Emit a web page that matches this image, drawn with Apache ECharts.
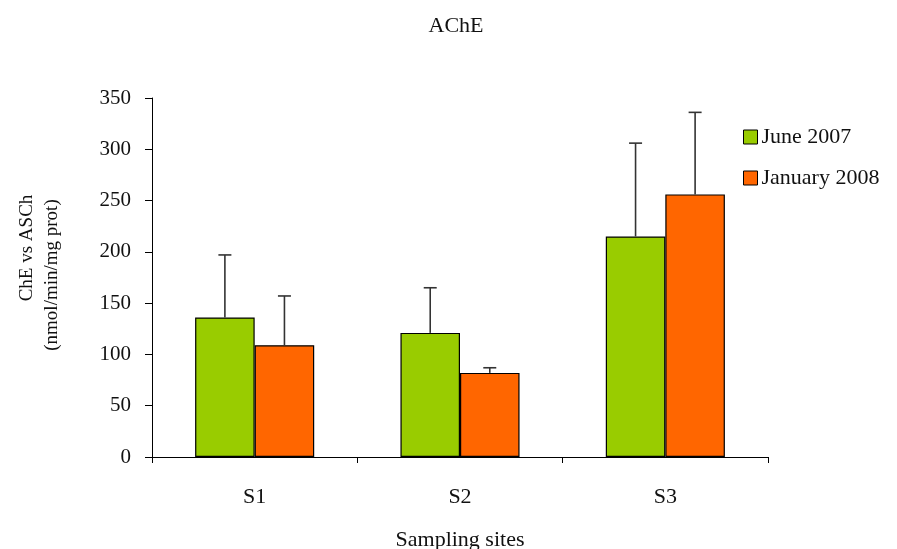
<!DOCTYPE html>
<html>
<head>
<meta charset="utf-8">
<script src="https://cdn.jsdelivr.net/npm/echarts@6/dist/echarts.min.js"></script>
<style>html,body{margin:0;padding:0;background:#fff}#c{width:897px;height:549px}</style>
</head>
<body>
<div id="c"></div>
<script>
var categories = ['S1', 'S2', 'S3'];
var june2007 = [136, 121, 215];
var june2007Err = [197, 165, 306];
var jan2008 = [109, 82, 256];
var jan2008Err = [157, 87, 336];
var yTicks = [0, 50, 100, 150, 200, 250, 300, 350];

var FONT = '"Liberation Serif", "DejaVu Serif", serif';
var GAP = 0.42;

function errSeries(vals, side) {
  var data = vals.map(function (v, i) { return [i, v]; });
  return {
    type: 'custom',
    silent: true,
    z: 5,
    data: data,
    renderItem: function (params, api) {
      var idx = api.value(0);
      var top = api.coord([idx, api.value(1)]);
      var cw = api.size([1, 0])[0];
      var bw = cw * (1 - GAP) / 2;
      var x = top[0] + side * bw / 2;
      var base = side < 0 ? june2007[idx] : jan2008[idx];
      var b = api.coord([idx, base]);
      return {
        type: 'group',
        children: [
          { type: 'line', shape: { x1: x, y1: b[1], x2: x, y2: top[1] }, style: { stroke: '#333', lineWidth: 1.6 } },
          { type: 'line', shape: { x1: x - 6.5, y1: top[1], x2: x + 6.5, y2: top[1] }, style: { stroke: '#333', lineWidth: 1.6 } }
        ]
      };
    }
  };
}

var chart = echarts.init(document.getElementById('c'));
chart.setOption({
  animation: false,
  backgroundColor: '#fff',
  title: {
    text: 'AChE', left: 451, top: 10, textAlign: 'center',
    textStyle: { fontFamily: FONT, fontSize: 22, fontWeight: 'normal', color: '#111' }
  },
  legend: {
    orient: 'vertical', left: 743, top: 126, itemGap: 19, padding: 0,
    itemWidth: 14, itemHeight: 14, icon: 'rect',
    data: ['June 2007', 'January 2008'],
    textStyle: { fontFamily: FONT, fontSize: 22, color: '#111', padding: [0, 0, 0, -1] },
    itemStyle: { borderColor: '#000', borderWidth: 1 }
  },
  grid: { left: 152, right: 129, top: 98, bottom: 92, containLabel: false, outerBoundsMode: 'none' },
  xAxis: {
    type: 'category', data: categories,
    name: 'Sampling sites', nameLocation: 'middle', nameGap: 72,
    nameTextStyle: { fontFamily: FONT, fontSize: 22, color: '#111' },
    axisLine: { lineStyle: { color: '#000', width: 1 } },
    axisTick: { show: true, length: 6, lineStyle: { color: '#000' } },
    axisLabel: { fontFamily: FONT, fontSize: 22, color: '#111', margin: 29 }
  },
  yAxis: {
    type: 'value', min: 0, max: 350, interval: 50,
    axisLine: { show: true, lineStyle: { color: '#000', width: 1 } },
    axisTick: { show: true, length: 7, lineStyle: { color: '#000' } },
    splitLine: { show: false },
    axisLabel: { fontFamily: FONT, fontSize: 21, color: '#111', margin: 21 }
  },
  graphic: [
    { type: 'text', x: 27, y: 248, rotation: Math.PI / 2,
      style: { text: 'ChE vs ASCh', font: '19px ' + FONT, fill: '#111', textAlign: 'center', textVerticalAlign: 'middle' } },
    { type: 'text', x: 52, y: 275, rotation: Math.PI / 2,
      style: { text: '(nmol/min/mg prot)', font: '19px ' + FONT, fill: '#111', textAlign: 'center', textVerticalAlign: 'middle' } }
  ],
  series: [
    { name: 'June 2007', type: 'bar', data: june2007, barGap: '0%', barCategoryGap: (GAP * 100) + '%',
      itemStyle: { color: '#99CC00', borderColor: '#000', borderWidth: 1.2 } },
    { name: 'January 2008', type: 'bar', data: jan2008, barGap: '0%', barCategoryGap: (GAP * 100) + '%',
      itemStyle: { color: '#FF6600', borderColor: '#000', borderWidth: 1.2 } },
    errSeries(june2007Err, -1),
    errSeries(jan2008Err, 1)
  ]
});
</script>
</body>
</html>
